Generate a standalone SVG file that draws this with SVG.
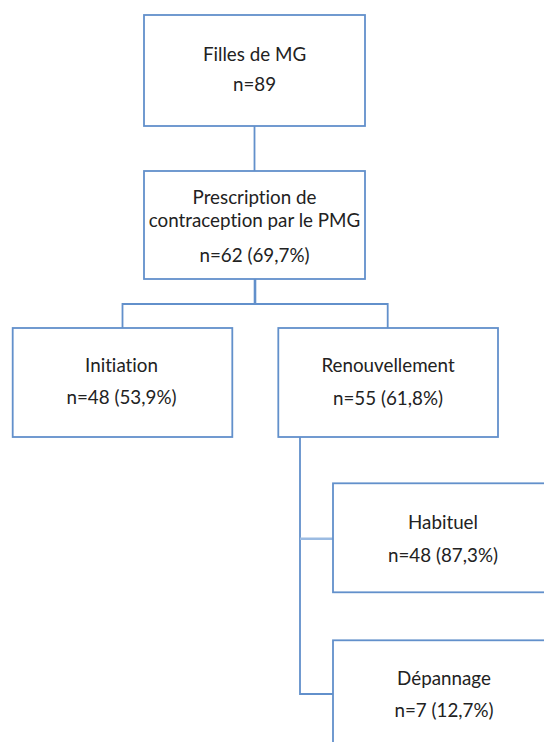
<svg xmlns="http://www.w3.org/2000/svg" width="544" height="742" viewBox="0 0 544 742">
<style>
.box{fill:#ffffff;stroke:#6290CB;stroke-width:1.8}
.ln{fill:none;stroke:#6290CB;stroke-width:1.8}
.t{font-family:Lato,"Open Sans","Liberation Sans",sans-serif;font-size:18.8px;fill:#222222;text-anchor:middle;font-variant-ligatures:none;font-feature-settings:"liga" 0,"clig" 0}
</style>
<rect width="544" height="742" fill="#ffffff"/>
<g id="connectors">
<line class="ln" x1="254.5" y1="126" x2="254.5" y2="171"/>
<line class="ln" x1="255" y1="279" x2="255" y2="304" style="stroke-width:2.6"/>
<polyline class="ln" points="122.5,328 122.5,304 387.7,304 387.7,328"/>
<polyline class="ln" points="300,437 300,694 333,694"/>
<line class="ln" x1="300" y1="538.7" x2="333" y2="538.7" style="stroke:#9BBBE2;stroke-width:2.6"/>
</g>
<g id="n1">
<rect class="box" x="144" y="15" width="221" height="111"/>
<text class="t" x="254.5" y="60.7">Filles de MG</text>
<text class="t" x="254.5" y="90.7">n=89</text>
</g>
<g id="n2">
<rect class="box" x="144" y="171" width="221" height="108"/>
<text class="t" x="254.5" y="204">Prescription de</text>
<text class="t" x="254.5" y="226.7">contraception par le PMG</text>
<text class="t" x="254.5" y="261.7">n=62 (69,7%)</text>
</g>
<g id="n3">
<rect class="box" x="12.7" y="328" width="219.6" height="109"/>
<text class="t" x="121.5" y="372.3">Initiation</text>
<text class="t" x="121.5" y="403.5">n=48 (53,9%)</text>
</g>
<g id="n4">
<rect class="box" x="278.3" y="328" width="219.7" height="109"/>
<text class="t" x="388" y="372.3">Renouvellement</text>
<text class="t" x="388" y="405">n=55 (61,8%)</text>
</g>
<g id="n5">
<rect class="box" x="333" y="483.3" width="220" height="109"/>
<text class="t" x="443" y="529.3">Habituel</text>
<text class="t" x="443" y="561.7">n=48 (87,3%)</text>
</g>
<g id="n6">
<rect class="box" x="333" y="640.3" width="220" height="120"/>
<text class="t" x="444" y="685">Dépannage</text>
<text class="t" x="444" y="717.3">n=7 (12,7%)</text>
</g>
</svg>
